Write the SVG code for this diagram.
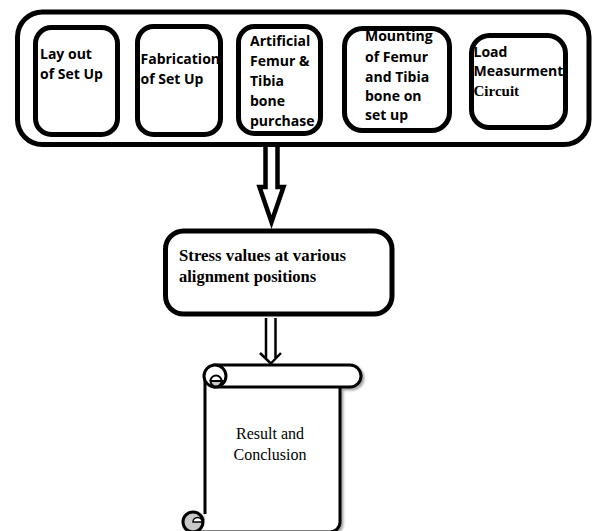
<svg xmlns="http://www.w3.org/2000/svg" width="592" height="531" viewBox="0 0 592 531">
<defs>
<style>
.box{fill:#fff;stroke:#000;stroke-width:5}
.sans{font-family:"Open Sans","Liberation Sans",sans-serif;font-weight:700;font-size:14px;fill:#000}
.serifb{font-family:"Liberation Serif","Times New Roman",serif;font-weight:700;fill:#000}
.serif{font-family:"Liberation Serif","Times New Roman",serif;font-size:16px;fill:#000}
.ln{fill:none;stroke:#000}
</style>
<filter id="sh" x="-10%" y="-10%" width="130%" height="130%">
<feDropShadow dx="2" dy="2" stdDeviation="1.2" flood-color="#000" flood-opacity="0.35"/>
</filter>
</defs>
<rect width="592" height="531" fill="#fff"/>
<g id="container">
<rect class="box" x="17.5" y="12" width="571.5" height="132.5" rx="25"/>
</g>
<g id="layout">
<rect class="box" x="35.5" y="27.5" width="82" height="107" rx="16"/>
<text class="sans" x="40" y="59">Lay out</text>
<text class="sans" x="40" y="78.5">of Set Up</text>
</g>
<g id="fabrication">
<rect class="box" x="137.5" y="26.5" width="83" height="108" rx="16"/>
<text class="sans" x="140.5" y="64">Fabrication</text>
<text class="sans" x="140.5" y="83.5">of Set Up</text>
</g>
<g id="purchase">
<rect class="box" x="238.5" y="26.5" width="82" height="107" rx="16"/>
<text class="sans" x="250" y="46">Artificial</text>
<text class="sans" x="250" y="66">Femur &amp;</text>
<text class="sans" x="250" y="86">Tibia</text>
<text class="sans" x="250" y="106">bone</text>
<text class="sans" x="250" y="126">purchase</text>
</g>
<g id="mounting">
<rect class="box" x="344.5" y="28.5" width="105" height="102" rx="18"/>
<text class="sans" x="365" y="41">Mounting</text>
<text class="sans" x="365" y="61.5">of Femur</text>
<text class="sans" x="365" y="81.5">and Tibia</text>
<text class="sans" x="365" y="101">bone on</text>
<text class="sans" x="365" y="120">set up</text>
</g>
<g id="load">
<rect class="box" x="471.5" y="35.5" width="94" height="92" rx="18"/>
<text class="sans" x="473.5" y="56.5">Load</text>
<text class="sans" x="473.5" y="76">Measurment</text>
<text class="serifb" x="473.5" y="95.5" font-size="15">Circuit</text>
</g>
<g id="connectors">
<polyline class="ln" stroke-width="4.5" stroke-linejoin="miter" fill="#fff" points="265.5,146 265.5,187 259.5,187 271.5,222 283.5,187 277.5,187 277.5,146"/>
<line class="ln" stroke-width="2.5" x1="266" y1="318" x2="266" y2="358"/>
<line class="ln" stroke-width="2.5" x1="275.5" y1="318" x2="275.5" y2="358"/>
<polyline class="ln" stroke-width="2.5" points="260,353 270.8,363.5 281,353"/>
</g>
<g id="stress">
<rect class="box" x="165.5" y="231" width="226.5" height="83" rx="18" stroke-width="5.5"/>
<text class="serifb" x="179" y="261" font-size="16.5" textLength="167" lengthAdjust="spacingAndGlyphs">Stress values at various</text>
<text class="serifb" x="179" y="282" font-size="16.5">alignment positions</text>
</g>
<g id="result">
<g filter="url(#sh)">
<path d="M205,376 L205,520 L193,532 L330,532 A10,10 0 0 0 340,522 L340,387 Z" fill="#fff" stroke="none"/>
<path class="ln" stroke-width="3" d="M205,376 V514"/>
<path class="ln" stroke-width="3" d="M340,387 V522 A10,10 0 0 1 330,532 H198"/>
<path d="M215,365 H350 A11,11 0 0 1 350,387 H215 Z" fill="#fff" stroke="#000" stroke-width="3"/>
<circle cx="215" cy="376" r="11" fill="#fff" stroke="#000" stroke-width="3"/>
<path d="M210.5,381 A5.5,5.5 0 0 0 221.5,381 Z" fill="#c8c8c8" stroke="#000" stroke-width="2"/>
<path class="ln" stroke-width="2" d="M210.5,381 A5.5,5.5 0 0 1 221.5,381 H226"/>
<circle cx="193" cy="522" r="10" fill="#c8c8c8" stroke="#000" stroke-width="3"/>
<path d="M193,522 A4.5,4.5 0 0 1 202,522 Z" fill="#fff" stroke="#000" stroke-width="1.5"/>
</g>
<text class="serif" x="270" y="439" text-anchor="middle">Result and</text>
<text class="serif" x="270" y="460" text-anchor="middle">Conclusion</text>
</g>
</svg>
